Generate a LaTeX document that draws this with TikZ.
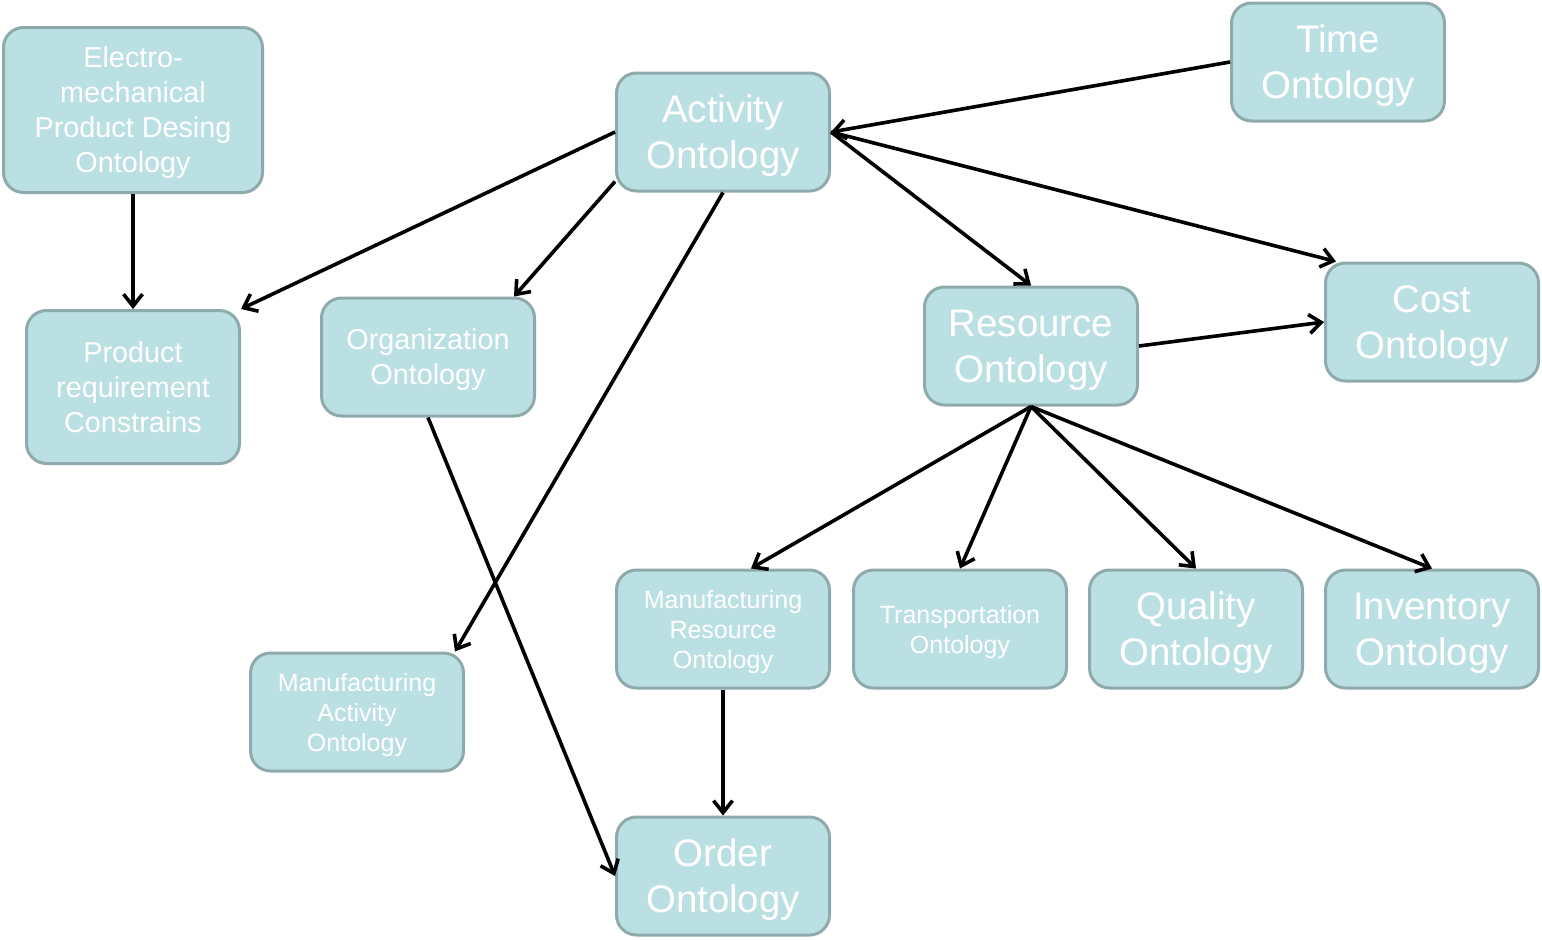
\documentclass[tikz,border=0pt]{standalone}
\usepackage{fontspec}
\setmainfont{Liberation Sans}
\usepackage{xcolor}
\usetikzlibrary{arrows.meta, positioning}

\definecolor{ontofill}{HTML}{BBE0E3}
\definecolor{ontoline}{HTML}{8FAAAC}

\tikzset{
  onto/.style={draw=ontoline, fill=ontofill, line width=1.5pt, rounded corners=10pt,
    text=white, align=center, minimum width=106.5pt, minimum height=59pt, inner sep=2pt,
    text depth=0pt},
  big/.style={onto, font=\fontsize{19.2}{23}\selectfont},
  mid/.style={onto, font=\fontsize{14.4}{17.5}\selectfont},
  small/.style={onto, font=\fontsize{12.5}{15}\selectfont},
  link/.style={-{Straight Barb[length=6pt, width=9.5pt]}, line width=1.8pt}
}

\begin{document}
\begin{tikzpicture}[x=0.5pt, y=-0.5pt]
  \useasboundingbox (0,0) rectangle (1542,939);
  % ontologies
  \node[mid, minimum width=129.5pt, minimum height=82.5pt] (electro) at (133,110) {Electro-\\mechanical\\Product Desing\\Ontology};
  \node[mid, minimum height=76.5pt] (product) at (133,387) {Product\\requirement\\Constrains};
  \node[big] (activity) at (723,132) {Activity\\Ontology};
  \node[big] (time) at (1338,62) {Time\\Ontology};
  \node[mid] (org) at (428,357) {Organization\\Ontology};
  \node[big] (resource) at (1031,346) {Resource\\Ontology};
  \node[big] (cost) at (1432,322) {Cost\\Ontology};
  \node[small] (mfgres) at (723,629) {Manufacturing\\Resource\\Ontology};
  \node[small] (transport) at (960,629) {Transportation\\Ontology};
  \node[big] (quality) at (1196,629) {Quality\\Ontology};
  \node[big] (inventory) at (1432,629) {Inventory\\Ontology};
  \node[small] (mfgact) at (357,712) {Manufacturing\\Activity\\Ontology};
  \node[big] (order) at (723,876) {Order\\Ontology};
  % links
  \draw[link] (electro) -- (product);
  \draw[link] (activity.west) -- (product.north east);
  \draw[link] ([yshift=5.5pt]activity.south west) -- ([xshift=-11pt]org.north east);
  \draw[link] (activity.south) -- ([xshift=-5pt]mfgact.north east);
  \draw[link] (activity.east) -- (resource.north);
  \draw[link] (activity.east) -- ([xshift=6pt]cost.north west);
  \draw[link] (time.west) -- (activity.east);
  \draw[link] (resource.east) -- (cost.west);
  \draw[link] (resource.south) -- ([xshift=-40pt]mfgres.north east);
  \draw[link] (resource.south) -- (transport.north);
  \draw[link] (resource.south) -- (quality.north);
  \draw[link] (resource.south) -- (inventory.north);
  \draw[link] (org.south) -- (order.west);
  \draw[link] (mfgres) -- (order);
\end{tikzpicture}
\end{document}
